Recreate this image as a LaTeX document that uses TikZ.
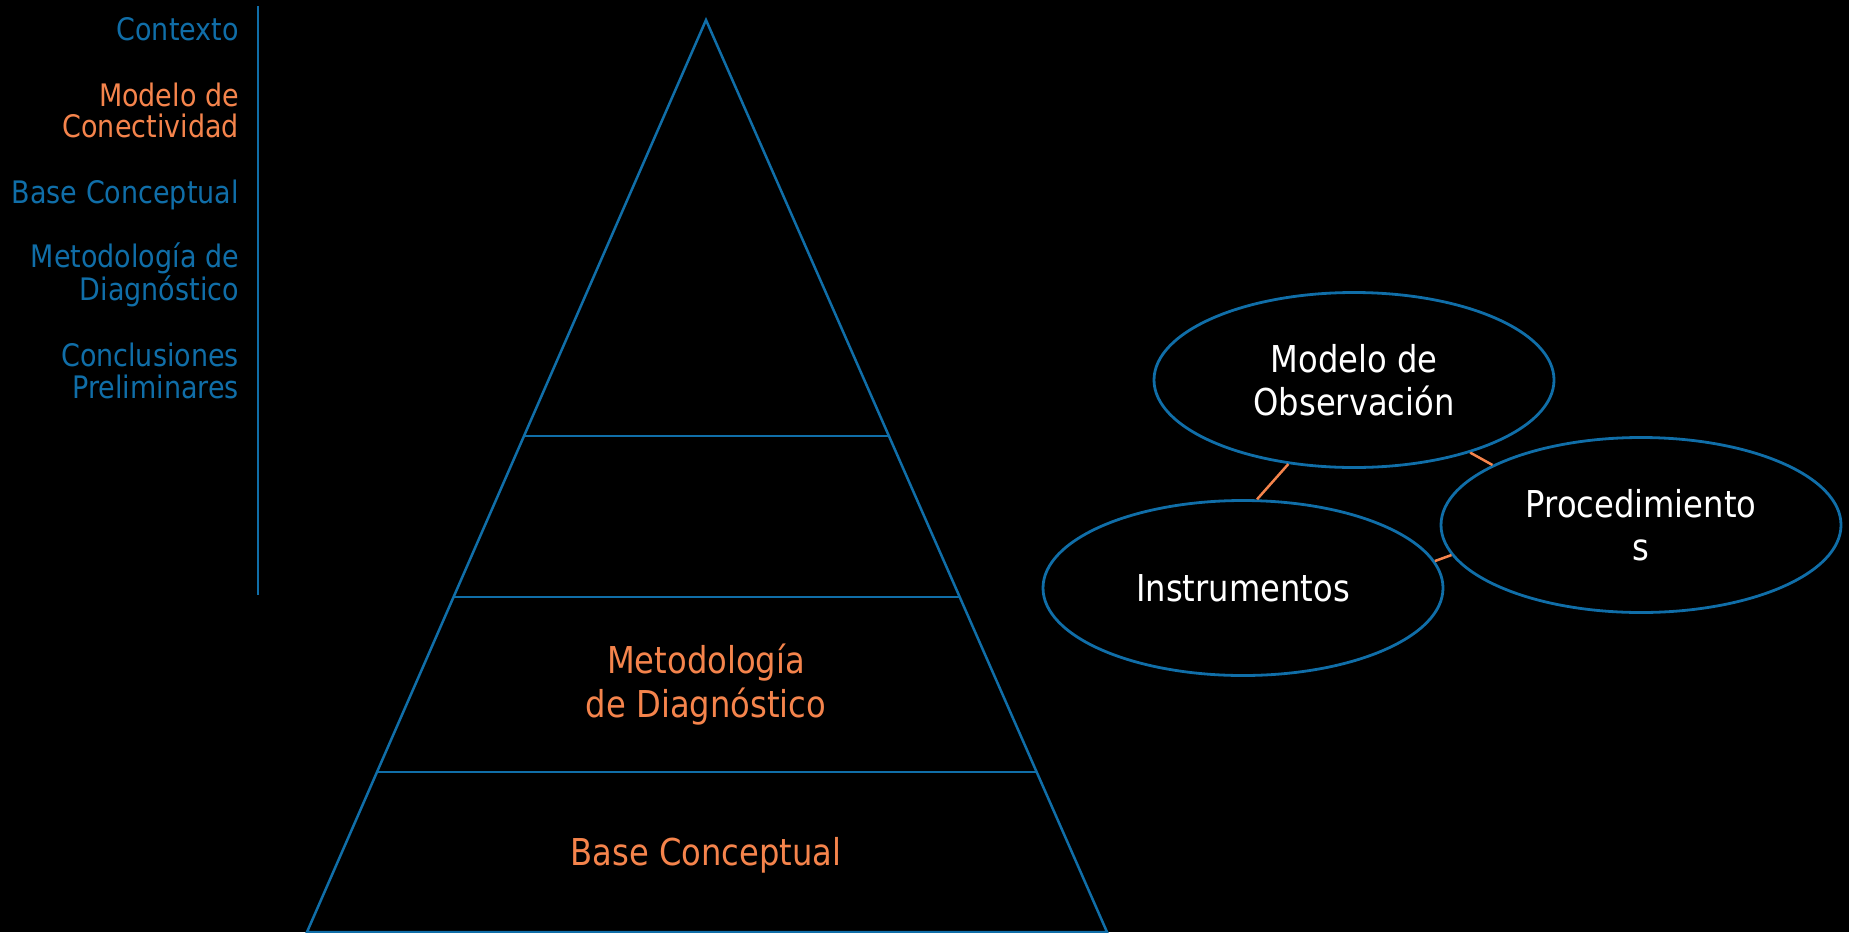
\documentclass[tikz,border=0pt]{standalone}
\usepackage{fontspec}
\setmainfont{DejaVu Sans}[FakeStretch=0.87]
\usetikzlibrary{shapes.geometric,calc}
\definecolor{pblue}{RGB}{16,110,168}
\definecolor{porange}{RGB}{245,132,76}
\tikzset{
  pyr/.style={draw=pblue, line width=2.5pt},
  ell/.style={draw=pblue, line width=2.8pt, ellipse, minimum width=400pt, minimum height=175pt, inner sep=0pt, text=white, font=\fontsize{37}{43}\selectfont, align=center},
  con/.style={draw=porange, line width=2.5pt},
  menu/.style={anchor=base east, align=right, inner sep=0pt, font=\fontsize{31}{31}\selectfont},
  ptext/.style={anchor=base, align=center, inner sep=0pt, text=porange, font=\fontsize{37}{44}\selectfont},
}
\begin{document}
\begin{tikzpicture}[x=1pt,y=-1pt]
\fill[black] (0,0) rectangle (1849,932);
\useasboundingbox (0,0) rectangle (1849,932);
% pyramid
\coordinate (apex) at (706,20);
\coordinate (bl) at (307,932);
\coordinate (br) at (1107,932);
\draw[pyr] (apex) -- (bl) -- (br) -- cycle;
\foreach \f/\n in {0.4561/a,0.6327/b,0.8246/c}{
  \coordinate (l\n) at ($(apex)!\f!(bl)$);
  \coordinate (r\n) at ($(apex)!\f!(br)$);
  \draw[pyr] (l\n) -- (r\n);
}
\node[ptext] (metod) at (706,717) {Metodología\\de Diagnóstico};
\node[ptext] (base) at (706,865) {Base Conceptual};
% menu
\coordinate (mtop) at (258,6);
\coordinate (mbot) at (258,595);
\draw[pblue, line width=2.5pt] (mtop) -- (mbot);
\node[menu, text=pblue] (m1) at (239,40) {Contexto};
\node[menu, text=porange] (m2) at (239,137) {Modelo de\\Conectividad};
\node[menu, text=pblue] (m3) at (239,203) {Base Conceptual};
\node[menu, text=pblue] (m4) at (239,300) {Metodología de\\Diagnóstico};
\node[menu, text=pblue, font=\fontsize{31}{32}\selectfont] (m5) at (239,398) {Conclusiones\\Preliminares};
% ellipses
\node[ell] (mo) at (1354,380) {Modelo de\\Observación};
\node[ell] (pr) at (1641,525) {Procedimiento\\s};
\node[ell] (in) at (1243,588) {Instrumentos};
\draw[con] (mo.232.6) -- (in.81);
\draw[con] (mo.328.5) -- (pr.158);
\draw[con] (in.8.3) -- (pr.189.8);
\end{tikzpicture}
\end{document}
